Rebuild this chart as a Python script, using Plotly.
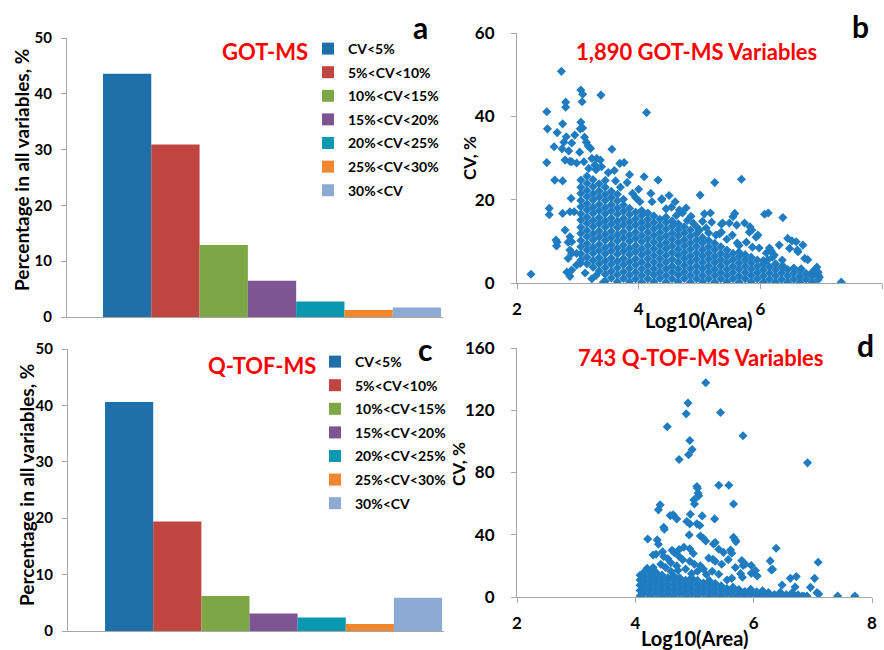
import plotly.graph_objects as go

W, H = 884, 650
FONT = "Lato"

# ---------------- data ----------------
categories = ["CV<5%", "5%<CV<10%", "10%<CV<15%", "15%<CV<20%",
              "20%<CV<25%", "25%<CV<30%", "30%<CV"]
got_pct = [43.6, 30.9, 12.9, 6.5, 2.8, 1.25, 1.7]
qtof_pct = [40.6, 19.4, 6.2, 3.1, 2.4, 1.25, 5.9]
bar_colors = ["#1F70AA", "#C0443F", "#7DA647", "#7C5592",
              "#0A97B0", "#F0862F", "#8DAAD4"]

bar_y_ticks = [0, 10, 20, 30, 40, 50]
b_y_ticks = [0, 20, 40, 60]
d_y_ticks = [0, 40, 80, 120, 160]
scatter_x_ticks = [2, 4, 6, 8]

# GOT-MS variables: dense core, column by column (log10 area, list of CV %)
b_dense = [
    (3.05, [5.5, 7.0, 8.7, 10.2, 11.9, 13.4, 15.1, 16.6, 18.3, 19.8, 21.5, 23.0, 24.7]),
    (3.15, [4.6, 6.2, 7.9, 9.4, 11.1, 12.6, 14.3, 15.8, 17.5, 19.0, 20.7, 22.2, 23.9, 25.6]),
    (3.25, [3.8, 5.4, 7.1, 8.6, 10.3, 11.8, 13.5, 15.0, 16.7, 18.2, 19.9, 21.4, 23.1, 24.8]),
    (3.35, [2.9, 4.6, 6.1, 7.8, 9.3, 11.0, 12.5, 14.2, 15.7, 17.4, 18.9, 20.6, 22.1, 23.8]),
    (3.45, [0.4, 2.1, 3.7, 5.3, 7.0, 8.5, 10.2, 11.7, 13.4, 14.9, 16.6, 18.1, 19.8, 21.3, 23.0, 24.6]),
    (3.55, [1.2, 2.8, 4.5, 6.0, 7.7, 9.2, 10.9, 12.4, 14.1, 15.6, 17.3, 18.8, 20.5, 22.0]),
    (3.65, [0.3, 2.0, 3.6, 5.2, 6.9, 8.4, 10.1, 11.6, 13.3, 14.8, 16.5, 18.0, 19.7, 21.3]),
    (3.75, [1.1, 2.7, 4.4, 5.9, 7.6, 9.1, 10.8, 12.3, 14.0, 15.5, 17.2, 18.7, 20.1]),
    (3.85, [0.3, 1.9, 3.5, 5.1, 6.8, 8.3, 10.0, 11.5, 13.2, 14.7, 16.4, 17.9]),
    (3.95, [1.0, 2.6, 4.3, 5.8, 7.5, 9.0, 10.7, 12.2, 13.9, 15.4, 17.0]),
    (4.05, [0.2, 1.8, 3.4, 5.0, 6.7, 8.2, 9.9, 11.4, 13.1, 14.6, 16.2, 17.4]),
    (4.15, [1.0, 2.6, 4.2, 5.8, 7.4, 9.0, 10.6, 12.2, 13.8, 15.3, 16.8]),
    (4.25, [0.3, 1.9, 3.4, 5.0, 6.6, 8.2, 9.8, 11.4, 13.0, 14.5, 16.1]),
    (4.35, [1.1, 2.6, 4.2, 5.8, 7.4, 9.0, 10.6, 12.1, 13.7, 15.3]),
    (4.45, [0.2, 1.8, 3.4, 5.0, 6.6, 8.2, 9.7, 11.3, 12.9, 14.5, 15.8]),
    (4.55, [1.0, 2.6, 4.1, 5.7, 7.3, 8.9, 10.5, 12.0, 13.6, 14.9]),
    (4.65, [0.3, 1.9, 3.4, 5.0, 6.6, 8.1, 9.7, 11.3, 12.8, 14.2]),
    (4.75, [1.1, 2.6, 4.2, 5.8, 7.3, 8.9, 10.4, 12.0, 13.5]),
    (4.85, [0.2, 1.8, 3.4, 5.0, 6.5, 8.1, 9.6, 11.2, 12.7]),
    (4.95, [1.0, 2.6, 4.1, 5.7, 7.2, 8.8, 10.3, 11.8]),
    (5.05, [0.3, 1.8, 3.4, 4.9, 6.5, 8.0, 9.6, 10.9]),
    (5.15, [1.0, 2.6, 4.1, 5.7, 7.2, 8.7, 10.2]),
    (5.25, [0.2, 1.8, 3.3, 4.9, 6.4, 8.0, 9.5]),
    (5.35, [1.0, 2.5, 4.1, 5.6, 7.1, 8.7]),
    (5.45, [0.3, 1.8, 3.3, 4.9, 6.4, 7.9]),
    (5.55, [1.0, 2.5, 4.0, 5.6, 7.1]),
    (5.65, [0.2, 1.7, 3.3, 4.8, 6.3, 7.4]),
    (5.75, [1.0, 2.5, 4.0, 5.5, 6.8]),
    (5.85, [0.3, 1.8, 3.3, 4.8, 6.2]),
    (5.95, [1.0, 2.5, 4.0, 5.5]),
    (6.05, [0.2, 1.7, 3.2, 4.6, 5.4]),
    (6.15, [0.9, 2.4, 3.9]),
    (6.25, [0.2, 1.7, 3.2, 4.6]),
    (6.35, [0.9, 2.4, 3.9]),
    (6.45, [0.2, 1.7, 3.2]),
    (6.55, [0.9, 2.4, 3.6]),
    (6.65, [0.2, 1.6, 3.0]),
    (6.75, [0.9, 2.3]),
    (6.85, [0.2, 1.6, 2.5]),
    (6.95, [0.8, 1.9]),
]

# GOT-MS variables: scattered points around the core
b_sparse = [
    (2.23, 2.1), (2.73, 50.8), (2.49, 41.1), (2.50, 37.0), (2.66, 36.1), (2.49, 28.9),
    (2.61, 32.7), (2.62, 24.7), (2.75, 24.5), (2.53, 17.9), (2.53, 16.4), (2.64, 10.3),
    (2.65, 8.9), (2.66, 9.8), (2.80, 43.4), (2.80, 42.2), (2.75, 38.2), (2.81, 35.1),
    (2.77, 33.8), (2.74, 32.2), (2.85, 31.7), (2.79, 29.5), (2.87, 29.2), (2.90, 29.1),
    (2.95, 35.5), (2.90, 33.6), (2.98, 28.8), (3.05, 46.3), (3.08, 45.3), (3.07, 43.5),
    (3.38, 45.1), (4.13, 40.9), (3.05, 38.6), (3.08, 37.2), (3.04, 37.0), (3.11, 35.0),
    (3.14, 33.8), (3.17, 32.9), (3.21, 32.3), (3.03, 31.4), (3.10, 29.1), (3.23, 29.9),
    (3.31, 29.9), (3.37, 29.5), (3.39, 27.9), (3.28, 28.3), (3.56, 32.1), (3.69, 28.7),
    (3.76, 28.9), (3.81, 24.1), (4.09, 25.5), (4.32, 24.7), (4.38, 20.0), (4.22, 19.5),
    (5.01, 21.1), (5.25, 24.1), (5.69, 24.9), (2.89, 20.3), (2.87, 17.1), (2.94, 17.1),
    (2.75, 16.7), (2.79, 12.7), (2.87, 11.1), (2.90, 9.9), (2.84, 9.8), (2.87, 7.9),
    (2.90, 7.1), (2.84, 5.9), (2.98, 7.1), (2.98, 4.3), (3.04, 4.7), (2.90, 3.1),
    (2.82, 2.6), (2.87, 1.6), (3.23, 1.0), (3.42, 0.2), (3.12, 2.4), (3.30, 1.8),
    (4.38, 20.2), (4.54, 18.2), (4.67, 17.5), (4.72, 16.8), (4.90, 14.3), (5.00, 12.7),
    (5.08, 16.6), (5.18, 16.8), (5.11, 13.2), (5.20, 14.6), (5.36, 14.1), (5.38, 14.4),
    (5.33, 11.8), (5.36, 12.2), (5.49, 14.4), (5.54, 11.5), (5.55, 15.9), (5.58, 16.7),
    (5.61, 13.9), (5.62, 9.6), (5.74, 14.4), (5.77, 9.8), (5.82, 12.2), (5.83, 13.5),
    (5.86, 12.7), (5.87, 8.6), (5.93, 11.0), (5.96, 11.5), (5.98, 8.4), (6.07, 16.5),
    (6.13, 16.8), (6.37, 15.7), (6.10, 7.2), (6.12, 5.5), (6.15, 8.4), (6.18, 7.7),
    (6.20, 6.2), (6.23, 6.7), (6.31, 9.1), (6.36, 5.5), (6.39, 3.8), (6.45, 10.7),
    (6.48, 8.3), (6.52, 10.1), (6.59, 9.9), (6.61, 7.9), (6.62, 7.5), (6.70, 9.1),
    (6.67, 3.4), (6.73, 5.9), (6.78, 5.6), (6.85, 1.9), (6.89, 3.1), (6.93, 3.8),
    (6.95, 2.6), (6.97, 1.4), (7.33, 0.2), (3.62, 24.5), (3.70, 23.0), (3.90, 21.5),
    (3.95, 20.5), (4.02, 19.5), (4.45, 17.8), (4.62, 16.2), (4.80, 15.0), (4.95, 13.5),
    (5.15, 12.0), (3.50, 26.5), (3.30, 27.2), (3.18, 27.5), (3.60, 27.0), (3.85, 26.0),
    (4.00, 22.5), (4.20, 21.5), (4.50, 21.0), (4.60, 19.5), (4.78, 18.0), (4.86, 16.0),
    (5.05, 14.8), (5.27, 11.5), (5.45, 10.5), (5.65, 9.0),
]

# Q-TOF-MS variables: dense core
d_dense = [
    (4.08, [0.8, 4.2, 7.6, 11.0, 14.0]),
    (4.15, [2.3, 5.8, 9.2, 12.6, 16.0]),
    (4.25, [0.6, 4.0, 7.4, 10.8, 14.2, 17.0]),
    (4.35, [2.2, 5.6, 9.0, 12.4, 15.8]),
    (4.45, [0.5, 3.9, 7.3, 10.7, 14.1]),
    (4.55, [2.1, 5.5, 8.9, 12.3]),
    (4.65, [0.6, 4.0, 7.4, 10.8, 13.5]),
    (4.75, [2.2, 5.6, 9.0, 12.4]),
    (4.85, [0.5, 3.9, 7.3, 10.7]),
    (4.95, [2.1, 5.5, 8.9, 12.3]),
    (5.05, [0.6, 4.0, 7.4, 10.8]),
    (5.15, [2.2, 5.6, 9.0]),
    (5.25, [0.5, 3.9, 7.3, 10.5]),
    (5.35, [2.1, 5.5, 8.6]),
    (5.45, [0.6, 4.0, 7.2]),
    (5.55, [2.2, 5.4]),
    (5.65, [0.5, 3.8, 6.2]),
    (5.75, [2.0, 4.8]),
    (5.85, [0.6, 3.5]),
    (5.95, [2.0, 5.0]),
    (6.05, [0.5, 3.3]),
    (6.15, [1.8, 4.0]),
    (6.25, [0.5, 2.8]),
    (6.35, [1.6]),
    (6.45, [0.5, 3.0]),
    (6.55, [1.5]),
    (6.65, [0.4, 2.8]),
    (6.75, [1.4]),
    (6.85, [0.4]),
]

# Q-TOF-MS variables: scattered points
d_sparse = [
    (5.19, 137.7), (4.89, 124.6), (4.86, 117.7), (5.44, 118.6), (4.54, 109.4), (5.82, 103.6),
    (4.92, 100.6), (4.96, 94.8), (4.90, 91.4), (4.74, 88.4), (6.91, 86.2), (5.04, 71.0),
    (5.05, 69.9), (5.41, 71.8), (5.58, 71.8), (5.06, 66.7), (5.07, 65.0), (4.99, 62.4),
    (5.00, 59.8), (5.66, 59.8), (4.42, 59.2), (4.39, 56.0), (4.59, 52.3), (4.64, 52.8),
    (4.70, 50.2), (5.13, 52.1), (5.34, 50.2), (4.93, 53.2), (4.87, 48.5), (4.92, 47.0),
    (5.04, 47.0), (5.09, 45.9), (4.48, 44.8), (4.49, 43.5), (4.91, 39.9), (4.21, 37.3),
    (4.37, 36.7), (4.39, 33.9), (5.10, 39.2), (5.15, 37.7), (5.19, 36.0), (5.32, 34.1),
    (5.35, 35.0), (5.66, 38.4), (5.69, 36.7), (5.70, 35.6), (6.38, 31.3), (5.41, 30.7),
    (5.49, 28.7), (5.61, 30.2), (5.63, 28.1), (5.31, 24.2), (5.80, 23.4), (5.82, 20.2),
    (6.28, 23.2), (6.30, 17.4), (6.32, 17.8), (5.96, 20.2), (7.09, 22.3), (5.96, 15.2),
    (6.06, 13.5), (6.62, 12.0), (6.72, 13.1), (7.03, 12.0), (6.48, 7.7), (6.96, 6.2),
    (6.70, 6.4), (7.07, 2.8), (7.10, 1.9), (7.42, 0.6), (7.71, 0.6), (6.90, 0.6),
    (6.82, 0.6), (5.81, 12.7), (5.63, 12.0), (5.55, 10.9), (4.30, 27.0), (4.35, 27.5),
    (4.46, 29.0), (4.48, 26.0), (4.62, 30.0), (4.66, 28.5), (4.74, 30.5), (4.82, 32.0),
    (4.92, 31.0), (4.98, 28.0), (4.74, 26.0), (4.80, 24.0), (4.43, 21.0), (4.51, 19.0),
    (4.60, 22.0), (4.92, 23.0), (5.00, 21.0), (5.10, 20.0), (5.24, 25.0), (5.35, 23.0),
    (5.46, 21.0), (5.57, 24.0), (5.30, 16.5), (5.41, 14.6), (5.69, 19.0), (5.78, 15.0),
    (5.86, 21.0), (6.03, 17.0), (4.55, 24.5), (4.70, 20.0), (4.85, 18.0), (5.05, 16.5),
    (5.20, 14.5), (4.60, 16.5), (4.95, 15.0), (5.15, 18.0), (4.30, 19.0), (4.20, 18.5),
    (4.72, 17.0),
]


def expand(dense, sparse):
    xs, ys = [], []
    for cx, col in dense:
        for v in col:
            xs.append(cx)
            ys.append(v)
    for px_, py_ in sparse:
        xs.append(px_)
        ys.append(py_)
    return xs, ys


b_x, b_y = expand(b_dense, b_sparse)
d_x, d_y = expand(d_dense, d_sparse)

# ---------------- helpers for layout (pixels -> paper) ----------------
def fx(p):
    return p / W


def fy(p):
    return 1 - p / H


AXIS_GRAY = "#A6A6A6"
SCATTER_BLUE = "#1F7CC1"

fig = go.Figure()

for i, (cat, col) in enumerate(zip(categories, bar_colors)):
    fig.add_trace(go.Bar(x=[i], y=[got_pct[i]], width=1, name=cat,
                         marker=dict(color=col, line=dict(width=0)),
                         xaxis="x", yaxis="y", legend="legend",
                         legendgroup="a%d" % i, hoverinfo="name+y"))
for i, (cat, col) in enumerate(zip(categories, bar_colors)):
    fig.add_trace(go.Bar(x=[i], y=[qtof_pct[i]], width=1, name=cat,
                         marker=dict(color=col, line=dict(width=0)),
                         xaxis="x3", yaxis="y3", legend="legend2",
                         legendgroup="c%d" % i, hoverinfo="name+y"))

fig.add_trace(go.Scatter(x=b_x, y=b_y, mode="markers", showlegend=False,
                         marker=dict(symbol="diamond", size=7, color=SCATTER_BLUE),
                         xaxis="x2", yaxis="y2"))
fig.add_trace(go.Scatter(x=d_x, y=d_y, mode="markers", showlegend=False,
                         marker=dict(symbol="diamond", size=7, color=SCATTER_BLUE),
                         xaxis="x4", yaxis="y4"))

bar_tickfont = dict(family=FONT, size=15, color="black", weight="bold")
sc_tickfont = dict(family=FONT, size=17, color="black", weight="bold")

common_axis = dict(showgrid=False, zeroline=False, showline=True,
                   linecolor=AXIS_GRAY, linewidth=1, tickcolor=AXIS_GRAY,
                   fixedrange=True, automargin=False)

legend_common = dict(xanchor="left", yanchor="top", bgcolor="rgba(0,0,0,0)",
                     font=dict(family=FONT, size=14, color="black", weight="bold"),
                     traceorder="grouped", tracegroupgap=2.4, borderwidth=0)

fig.update_layout(
    width=W, height=H,
    margin=dict(l=0, r=0, t=0, b=0, pad=0, autoexpand=False),
    paper_bgcolor="white", plot_bgcolor="white",
    barmode="overlay", showlegend=True,
    font=dict(family=FONT, color="black"),
    xaxis=dict(domain=[fx(67), fx(443)], range=[-1.245, 6.54], anchor="y",
               showticklabels=False, ticks="", **common_axis),
    yaxis=dict(domain=[fy(317), fy(38)], range=[0, 50], anchor="x",
               tickvals=bar_y_ticks, ticks="outside", ticklen=5,
               ticklabelstandoff=6, tickfont=bar_tickfont, **common_axis),
    xaxis3=dict(domain=[fx(68), fx(444)], range=[-1.27, 6.54], anchor="y3",
                showticklabels=False, ticks="", **common_axis),
    yaxis3=dict(domain=[fy(631), fy(349)], range=[0, 50], anchor="x3",
                tickvals=bar_y_ticks, ticks="outside", ticklen=5,
                ticklabelstandoff=6, tickfont=bar_tickfont, **common_axis),
    xaxis2=dict(domain=[fx(517), fx(882)], range=[2, 8], anchor="y2",
                tickvals=scatter_x_ticks, ticks="outside", ticklen=5,
                ticklabelstandoff=6, tickfont=sc_tickfont, **common_axis),
    yaxis2=dict(domain=[fy(283), fy(33)], range=[0, 60], anchor="x2",
                tickvals=b_y_ticks, ticks="outside", ticklen=5,
                ticklabelstandoff=13, tickfont=sc_tickfont, **common_axis),
    xaxis4=dict(domain=[fx(517), fx(872)], range=[2, 8], anchor="y4",
                tickvals=scatter_x_ticks, ticks="outside", ticklen=5,
                ticklabelstandoff=6, tickfont=sc_tickfont, **common_axis),
    yaxis4=dict(domain=[fy(597), fy(348)], range=[0, 160], anchor="x4",
                tickvals=d_y_ticks, ticks="outside", ticklen=5,
                ticklabelstandoff=13, tickfont=sc_tickfont, **common_axis),
    legend=dict(x=fx(308), y=fy(33), **legend_common),
    legend2=dict(x=fx(315), y=fy(346), **legend_common),
)


def ann(text, x, y, size, color="black", angle=0):
    fig.add_annotation(text=text, x=fx(x), y=fy(y), xref="paper", yref="paper",
                       xanchor="center", yanchor="middle", showarrow=False,
                       textangle=angle,
                       font=dict(family=FONT, size=size, color=color, weight="bold"))


RED = "#FF0000"
ann("a", 420, 27, 30)
ann("b", 860, 26, 30)
ann("c", 425, 349, 30)
ann("d", 865, 345, 30)
ann("GOT-MS", 265, 52, 22, RED)
ann("Q-TOF-MS", 262, 365, 22, RED)
ann("1,890 GOT-MS Variables", 696, 52, 22, RED)
ann("743 Q-TOF-MS Variables", 701, 357, 22, RED)
ann("Percentage in all variables, %", 22, 170, 19, angle=-90)
ann("Percentage in all variables, %", 26, 485, 19, angle=-90)
ann("CV, %", 469, 158, 17, angle=-90)
ann("CV, %", 459, 464, 17, angle=-90)
ann("Log10(Area)", 699, 320, 20)
ann("Log10(Area)", 695, 638, 20)

# remove the default page margin so the 884x650 figure fills the window exactly
fig.write_html("out.html",
               config={"displayModeBar": False},
               post_script="document.body.style.margin='0';"
                           "document.body.style.padding='0';")
